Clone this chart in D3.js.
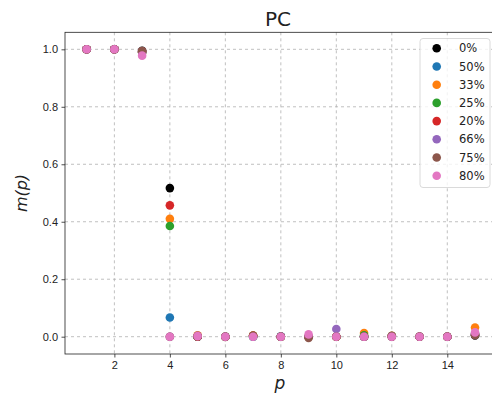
<!DOCTYPE html>
<html>
<head>
<meta charset="utf-8">
<script src="https://cdn.jsdelivr.net/npm/d3@7"></script>
<style>
  body { margin: 0; background: #fff; }
  svg { display: block; font-family: "DejaVu Sans", sans-serif; }
</style>
</head>
<body>
<div id="chart"></div>
<script>
// data
const pValues = [1, 2, 3, 4, 5, 6, 7, 8, 9, 10, 11, 12, 13, 14, 15];
const seriesNames = ['0%', '50%', '33%', '25%', '20%', '66%', '75%', '80%'];
const seriesColors = ['#000000', '#1f77b4', '#ff7f0e', '#2ca02c', '#d62728', '#9467bd', '#8c564b', '#e377c2'];
const m0 = [1, 1, 0.995, 0.517, 0, 0, 0.003, 0, 0, 0, 0, 0.002, 0, 0, 0.004];
const m50 = [1, 1, 0.993, 0.067, 0, 0, 0, 0.001, 0, 0, 0, 0, 0, 0, 0.006];
const m33 = [1, 1, 0.99, 0.41, 0.005, 0, 0.004, 0, 0, 0, 0.013, 0.003, 0, 0, 0.032];
const m25 = [1, 1, 0.99, 0.385, 0, 0, 0, 0, 0, 0, 0.005, 0.002, 0, 0, 0.01];
const m20 = [1, 1, 0.993, 0.457, 0, 0, 0.002, 0, 0, 0, 0, 0, 0, 0, 0.008];
const m66 = [1, 1, 0.99, 0, 0.003, 0, 0, 0, 0, 0.027, 0, 0.002, 0, 0, 0.01];
const m75 = [1, 1, 0.994, 0, 0.002, -0.001, 0.004, 0, -0.004, 0, 0, 0.002, 0, 0, 0.005];
const m80 = [1, 1, 0.978, 0, 0.002, 0, 0, 0, 0.008, 0, 0, 0, 0, 0, 0.015];
const seriesValues = [m0, m50, m33, m25, m20, m66, m75, m80];
const xTicks = [2, 4, 6, 8, 10, 12, 14];
const yTicks = [0, 0.2, 0.4, 0.6, 0.8, 1.0];

const width = 492, height = 398;
const plot = {left: 65, right: 500, top: 32.3, bottom: 354};

const svg = d3.select('#chart').append('svg')
  .attr('width', width)
  .attr('height', height);

const x = d3.scaleLinear().domain([0.22, 15.9]).range([plot.left, plot.right]);
const y = d3.scaleLinear().domain([-0.0602, 1.0592]).range([plot.bottom, plot.top]);

// grid
const grid = svg.append('g');
grid.selectAll('.gx').data(xTicks).enter().append('line')
  .attr('x1', d => x(d)).attr('x2', d => x(d))
  .attr('y1', plot.top).attr('y2', plot.bottom)
  .attr('stroke', '#b0b0b0').attr('stroke-width', 0.8).attr('stroke-dasharray', '3,3');
grid.selectAll('.gy').data(yTicks).enter().append('line')
  .attr('x1', plot.left).attr('x2', plot.right)
  .attr('y1', d => y(d)).attr('y2', d => y(d))
  .attr('stroke', '#b0b0b0').attr('stroke-width', 0.8).attr('stroke-dasharray', '3,3');

// axes
const xAxis = svg.append('g')
  .attr('transform', `translate(0,${plot.bottom})`)
  .call(d3.axisBottom(x).tickValues(xTicks).tickSize(3.5).tickPadding(3.5).tickFormat(d3.format('d')));
const yAxis = svg.append('g')
  .attr('transform', `translate(${plot.left},0)`)
  .call(d3.axisLeft(y).tickValues(yTicks).tickSize(3.5).tickPadding(3.5).tickFormat(d3.format('.1f')));
[xAxis, yAxis].forEach(a => {
  a.select('.domain').remove();
  a.selectAll('text').style('font-size', '11px').attr('fill', '#222');
  a.selectAll('line').attr('stroke', '#222').attr('stroke-width', 0.8);
});

// frame
svg.append('rect')
  .attr('x', plot.left).attr('y', plot.top)
  .attr('width', plot.right - plot.left).attr('height', plot.bottom - plot.top)
  .attr('fill', 'none').attr('stroke', '#222').attr('stroke-width', 0.8);

// points
const points = svg.append('g');
seriesValues.forEach((vals, i) => {
  points.selectAll(null)
    .data(vals.map((v, j) => ({p: pValues[j], m: v})))
    .enter().append('circle')
    .attr('cx', d => x(d.p))
    .attr('cy', d => y(d.m))
    .attr('r', 4.3)
    .attr('fill', seriesColors[i]);
});

// title and labels
svg.append('text')
  .attr('x', 278).attr('y', 25.5)
  .attr('text-anchor', 'middle')
  .style('font-size', '20px')
  .attr('fill', '#222')
  .text('PC');

svg.append('text')
  .attr('x', 280).attr('y', 389)
  .attr('text-anchor', 'middle')
  .style('font-size', '17px')
  .style('font-style', 'italic')
  .attr('fill', '#222')
  .text('p');

svg.append('text')
  .attr('transform', 'translate(27,193) rotate(-90)')
  .attr('text-anchor', 'middle')
  .style('font-size', '16px')
  .style('font-style', 'italic')
  .attr('fill', '#222')
  .text('m(p)');

// legend
const legend = svg.append('g');
legend.append('rect')
  .attr('x', 420).attr('y', 38.5)
  .attr('width', 70).attr('height', 149)
  .attr('rx', 3)
  .attr('fill', 'rgba(255,255,255,0.8)')
  .attr('stroke', '#d0d0d0').attr('stroke-width', 0.8);
const rows = legend.selectAll('.row').data(seriesNames).enter().append('g')
  .attr('transform', (d, i) => `translate(0,${48.3 + i * 18.2})`);
rows.append('circle')
  .attr('cx', 436.7).attr('cy', 0).attr('r', 4.3)
  .attr('fill', (d, i) => seriesColors[i]);
rows.append('text')
  .attr('x', 459).attr('y', 0).attr('dy', '0.35em')
  .style('font-size', '11.5px')
  .attr('fill', '#222')
  .text(d => d);
</script>
</body>
</html>
